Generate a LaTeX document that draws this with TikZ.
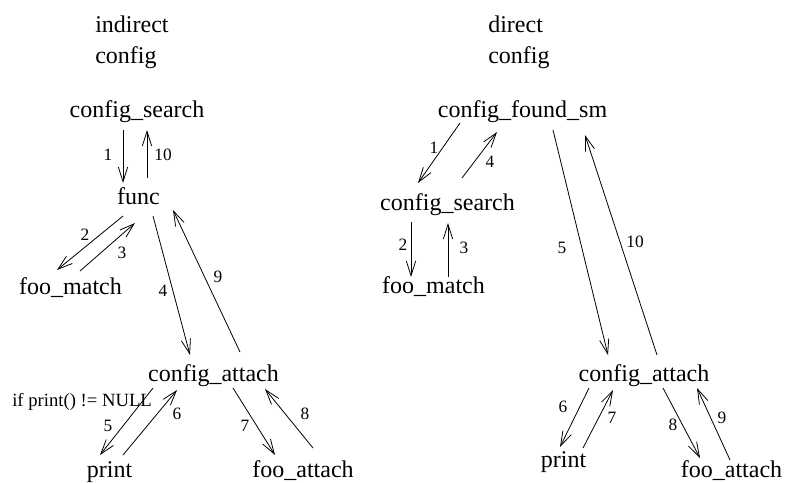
\documentclass[tikz,border=0pt]{standalone}
\usepackage{fontspec}
\setmainfont{Liberation Serif}
\usetikzlibrary{arrows.meta}
\begin{document}
\begin{tikzpicture}[x=0.75pt,y=-0.75pt,
  lbl/.style={inner sep=0pt,anchor=base,font=\fontsize{18}{20}\selectfont},
  num/.style={inner sep=0pt,anchor=center,font=\fontsize{13}{15}\selectfont},
  arr/.style={line width=0.6pt,-{Straight Barb[length=11pt,width=7pt]}}]
\useasboundingbox (0,0) rectangle (787,482);
% headers
\node[lbl,anchor=base west,align=left] (h1) at (95,32) {indirect};
\node[lbl,anchor=base west] (h1b) at (95,63) {config};
\node[lbl,anchor=base west] (h2) at (488,32) {direct};
\node[lbl,anchor=base west] (h2b) at (488,63) {config};
% left tree
\node[lbl] (cs) at (137,117) {config\_search};
\node[lbl] (fn) at (138.5,204) {func};
\node[lbl] (fm) at (70.5,294) {foo\_match};
\node[lbl] (ca) at (213.5,381) {config\_attach};
\node[lbl] (pr) at (109.5,477) {print};
\node[lbl] (fa) at (303,477) {foo\_attach};
\node[inner sep=0pt,anchor=base west,font=\fontsize{14}{16}\selectfont] (cond) at (12,406) {if print() != NULL};
\draw[arr] ([shift={(-14,13)}]cs.base) -- ([shift={(-15.5,-21)}]fn.base);
\draw[arr] ([shift={(8.5,-26)}]fn.base) -- ([shift={(10,13)}]cs.base);
\draw[arr] ([shift={(-15.5,12)}]fn.base) -- ([shift={(-13.5,-24)}]fm.base);
\draw[arr] ([shift={(9.5,-23)}]fm.base) -- ([shift={(-3.5,19)}]fn.base);
\draw[arr] ([shift={(14.5,12)}]fn.base) -- ([shift={(-23.5,-26)}]ca.base);
\draw[arr] ([shift={(26.5,-29)}]ca.base) -- ([shift={(34.5,6)}]fn.base);
\draw[arr] ([shift={(-60.5,7)}]ca.base) -- ([shift={(-9.5,-22)}]pr.base);
\draw[arr] ([shift={(13.5,-22)}]pr.base) -- ([shift={(-36.5,9)}]ca.base);
\draw[arr] ([shift={(19.5,7)}]ca.base) -- ([shift={(-28,-22)}]fa.base);
\draw[arr] ([shift={(10,-29)}]fa.base) -- ([shift={(51.5,8)}]ca.base);
\node[num] (l1) at (108,155) {1};
\node[num] (l10) at (163,155) {10};
\node[num] (l2) at (85,235) {2};
\node[num] (l3) at (122,253) {3};
\node[num] (l4) at (163,291) {4};
\node[num] (l9) at (218,277) {9};
\node[num] (l5) at (108,426) {5};
\node[num] (l6) at (177,414) {6};
\node[num] (l7) at (245,426) {7};
\node[num] (l8) at (305,414) {8};
% right tree
\node[lbl] (cf) at (522.5,117) {config\_found\_sm};
\node[lbl] (cs2) at (447.5,210) {config\_search};
\node[lbl] (fm2) at (433.5,293) {foo\_match};
\node[lbl] (ca2) at (644,381) {config\_attach};
\node[lbl] (pr2) at (563.5,467) {print};
\node[lbl] (fa2) at (731.5,477) {foo\_attach};
\draw[arr] ([shift={(-62.5,6)}]cf.base) -- ([shift={(-29.5,-27)}]cs2.base);
\draw[arr] ([shift={(14.5,-32)}]cs2.base) -- ([shift={(-25.5,15)}]cf.base);
\draw[arr] ([shift={(-36.5,12)}]cs2.base) -- ([shift={(-22.5,-16)}]fm2.base);
\draw[arr] ([shift={(14.5,-16)}]fm2.base) -- ([shift={(0.5,13)}]cs2.base);
\draw[arr] ([shift={(30.5,13)}]cf.base) -- ([shift={(-36,-26)}]ca2.base);
\draw[arr] ([shift={(13,-26)}]ca2.base) -- ([shift={(62.5,18)}]cf.base);
\draw[arr] ([shift={(-55,7)}]ca2.base) -- ([shift={(-3.5,-20)}]pr2.base);
\draw[arr] ([shift={(19.5,-19)}]pr2.base) -- ([shift={(-31,9)}]ca2.base);
\draw[arr] ([shift={(19,7)}]ca2.base) -- ([shift={(-31.5,-19)}]fa2.base);
\draw[arr] ([shift={(-1.5,-17)}]fa2.base) -- ([shift={(53,7)}]ca2.base);
\node[num] (r1) at (434,148) {1};
\node[num] (r4) at (490,162) {4};
\node[num] (r2) at (403,245) {2};
\node[num] (r3) at (464,248) {3};
\node[num] (r5) at (562,248) {5};
\node[num] (r10) at (635,242) {10};
\node[num] (r6) at (563,407) {6};
\node[num] (r7) at (612,418) {7};
\node[num] (r8) at (673,425) {8};
\node[num] (r9) at (722,418) {9};
\end{tikzpicture}
\end{document}
